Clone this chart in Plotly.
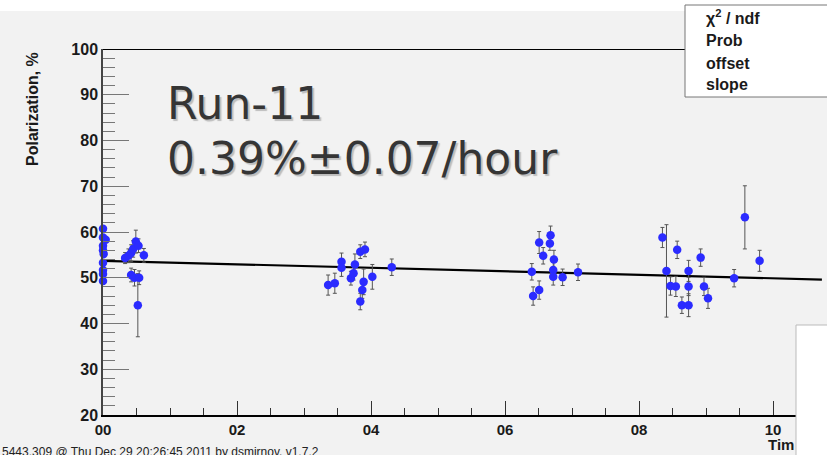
import plotly.graph_objects as go

# polarization measurements vs time (hours from start of fill)
t_hours = [0.00, 0.00, 0.04, 0.00, 0.00, 0.01, 0.00, 0.00, 0.00, 0.00,
           0.33, 0.38, 0.42, 0.45, 0.49, 0.53, 0.61, 0.42, 0.47, 0.54, 0.52,
           3.36, 3.46, 3.56, 3.56, 3.70, 3.74, 3.76, 3.84, 3.91, 3.89, 3.87, 3.84, 4.02, 4.31,
           6.40, 6.42, 6.51, 6.51, 6.57, 6.67, 6.68, 6.73, 6.72, 6.72, 6.86, 7.09,
           8.35, 8.41, 8.47, 8.55, 8.57, 8.64, 8.74, 8.74, 8.74, 8.92, 8.97, 9.03, 9.42, 9.58, 9.80]
polarization = [60.7, 58.8, 58.3, 57.0, 56.0, 55.2, 53.3, 51.7, 50.8, 49.3,
                54.3, 54.8, 55.4, 56.3, 57.9, 57.0, 54.9, 50.6, 50.0, 50.0, 44.0,
                48.4, 48.8, 53.5, 52.2, 49.9, 51.0, 52.9, 55.7, 56.2, 49.1, 47.3, 44.8, 50.2, 52.3,
                51.3, 46.0, 47.3, 57.7, 54.8, 57.5, 59.3, 54.0, 51.7, 50.2, 50.1, 51.2,
                58.8, 51.5, 48.2, 48.1, 56.1, 44.0, 44.0, 48.1, 51.5, 54.4, 48.1, 45.5, 49.9, 63.2, 53.7]
pol_err = [0.6, 0.6, 0.6, 0.6, 0.6, 0.6, 0.6, 0.6, 0.6, 0.6,
           1.2, 1.5, 1.8, 1.8, 2.5, 1.5, 1.5, 1.5, 1.8, 1.5, 6.9,
           2.2, 2.2, 1.9, 1.9, 1.5, 1.5, 2.3, 1.5, 1.6, 2.8, 1.8, 1.8, 2.7, 1.8,
           1.8, 2.0, 2.0, 2.4, 1.8, 1.5, 2.0, 2.0, 1.8, 1.8, 1.8, 1.8,
           2.2, 10.1, 2.0, 2.2, 1.9, 1.8, 2.5, 2.0, 2.3, 1.9, 2.0, 2.2, 1.9, 6.9, 2.3]

# linear fit (offset + slope*t)
fit_t = [0.0, 10.73]
fit_pol = [53.7, 49.6]

x_tick_vals = [0, 2, 4, 6, 8, 10]
x_tick_text = ["00", "02", "04", "06", "08", "10"]
y_tick_vals = [20, 30, 40, 50, 60, 70, 80, 90, 100]

stats_labels = ["χ<sup>2</sup> / ndf", "Prob", "offset", "slope"]
run_label = "Run-11"
rate_label = "0.39%±0.07/hour"
footer = "5443.309 @ Thu Dec 29 20:26:45 2011 by dsmirnov, v1.7.2"

# plot area in pixels
L, T, W, H = 103, 49, 724, 366


def px(x):
    return (x - L) / W


def py(y):
    return (T + H - y) / H


bg = "#f2f2f2"
bold = dict(family="Liberation Sans", weight="bold", color="#1a1a1a")

fig = go.Figure()
fig.add_trace(go.Scatter(
    x=fit_t, y=fit_pol, mode="lines",
    line=dict(color="black", width=2.2), showlegend=False, hoverinfo="skip",
))
fig.add_trace(go.Scatter(
    x=t_hours, y=polarization, mode="markers",
    marker=dict(color="#2b2bff", size=8.5),
    error_y=dict(type="data", array=pol_err, color="#555", thickness=1, width=2),
    cliponaxis=False, showlegend=False,
))

fig.update_layout(
    width=827, height=455,
    margin=dict(l=L, r=0, t=T, b=455 - T - H, autoexpand=False),
    paper_bgcolor=bg, plot_bgcolor=bg,
    xaxis=dict(
        range=[0, W / 67.0], showgrid=False, zeroline=False,
        showline=True, linecolor="black", linewidth=2,
        ticks="inside", ticklen=14, tickcolor="#333", tickwidth=1,
        tickvals=x_tick_vals, ticktext=x_tick_text,
        tickfont=dict(size=15, **bold),
        minor=dict(dtick=0.5, tick0=0, ticks="inside", ticklen=7, tickcolor="#333", showgrid=False),
    ),
    yaxis=dict(
        range=[20, 100], showgrid=False, zeroline=False,
        showline=True, linecolor="#444", linewidth=1.5,
        ticks="inside", ticklen=26, tickcolor="#777", tickwidth=1,
        tickvals=y_tick_vals,
        tickfont=dict(size=16, **bold),
        minor=dict(dtick=2, tick0=20, ticks="inside", ticklen=12, tickcolor="#777", showgrid=False),
    ),
)

shapes = [
    # white strip where the title was cropped
    dict(type="rect", xref="paper", yref="paper", x0=px(0), x1=px(830), y0=py(11), y1=py(-5),
         fillcolor="white", line=dict(width=0), layer="above"),
    # top frame line
    dict(type="line", xref="paper", yref="y", x0=0, x1=px(685), y0=100, y1=100,
         line=dict(color="black", width=2.2), layer="above"),
    # stats box
    dict(type="rect", xref="paper", yref="paper", x0=px(685), x1=px(832), y0=py(97), y1=py(5),
         fillcolor="white", line=dict(color="#777", width=1), layer="above"),
    # white overlay at lower right
    dict(type="rect", xref="paper", yref="paper", x0=px(796), x1=px(832), y0=py(460), y1=py(325),
         fillcolor="white", line=dict(color="#bbb", width=1), layer="above"),
]
fig.update_layout(shapes=shapes)

ann = []
for lab, yy in zip(stats_labels, [17, 41, 63, 84]):
    ann.append(dict(text=lab, x=px(704), y=py(yy), xref="paper", yref="paper",
                    xanchor="left", yanchor="middle", showarrow=False,
                    font=dict(size=16, **bold)))

for lab, yy in [(run_label, 103), (rate_label, 158)]:
    ann.append(dict(text=lab, x=px(165), y=py(yy), xref="paper", yref="paper",
                    xanchor="left", yanchor="middle", showarrow=False,
                    font=dict(family="DejaVu Sans", size=44, color="#353535",
                              shadow="2px 2px 1px #bdbdbd")))

ann.append(dict(text="Polarization, %", x=px(33), y=py(109), xref="paper", yref="paper",
                xanchor="center", yanchor="middle", textangle=-90, showarrow=False,
                font=dict(size=16, **bold)))
ann.append(dict(text="Tim", x=px(796), y=py(444), xref="paper", yref="paper",
                xanchor="right", yanchor="middle", showarrow=False,
                font=dict(size=15, **bold)))
ann.append(dict(text=footer, x=px(0), y=py(452), xref="paper", yref="paper",
                xanchor="left", yanchor="middle", showarrow=False,
                font=dict(family="Liberation Sans", size=12, color="#222")))
fig.update_layout(annotations=ann)

fig.write_html("out.html", config={"displayModeBar": False},
               post_script="document.body.style.margin='0px';")
